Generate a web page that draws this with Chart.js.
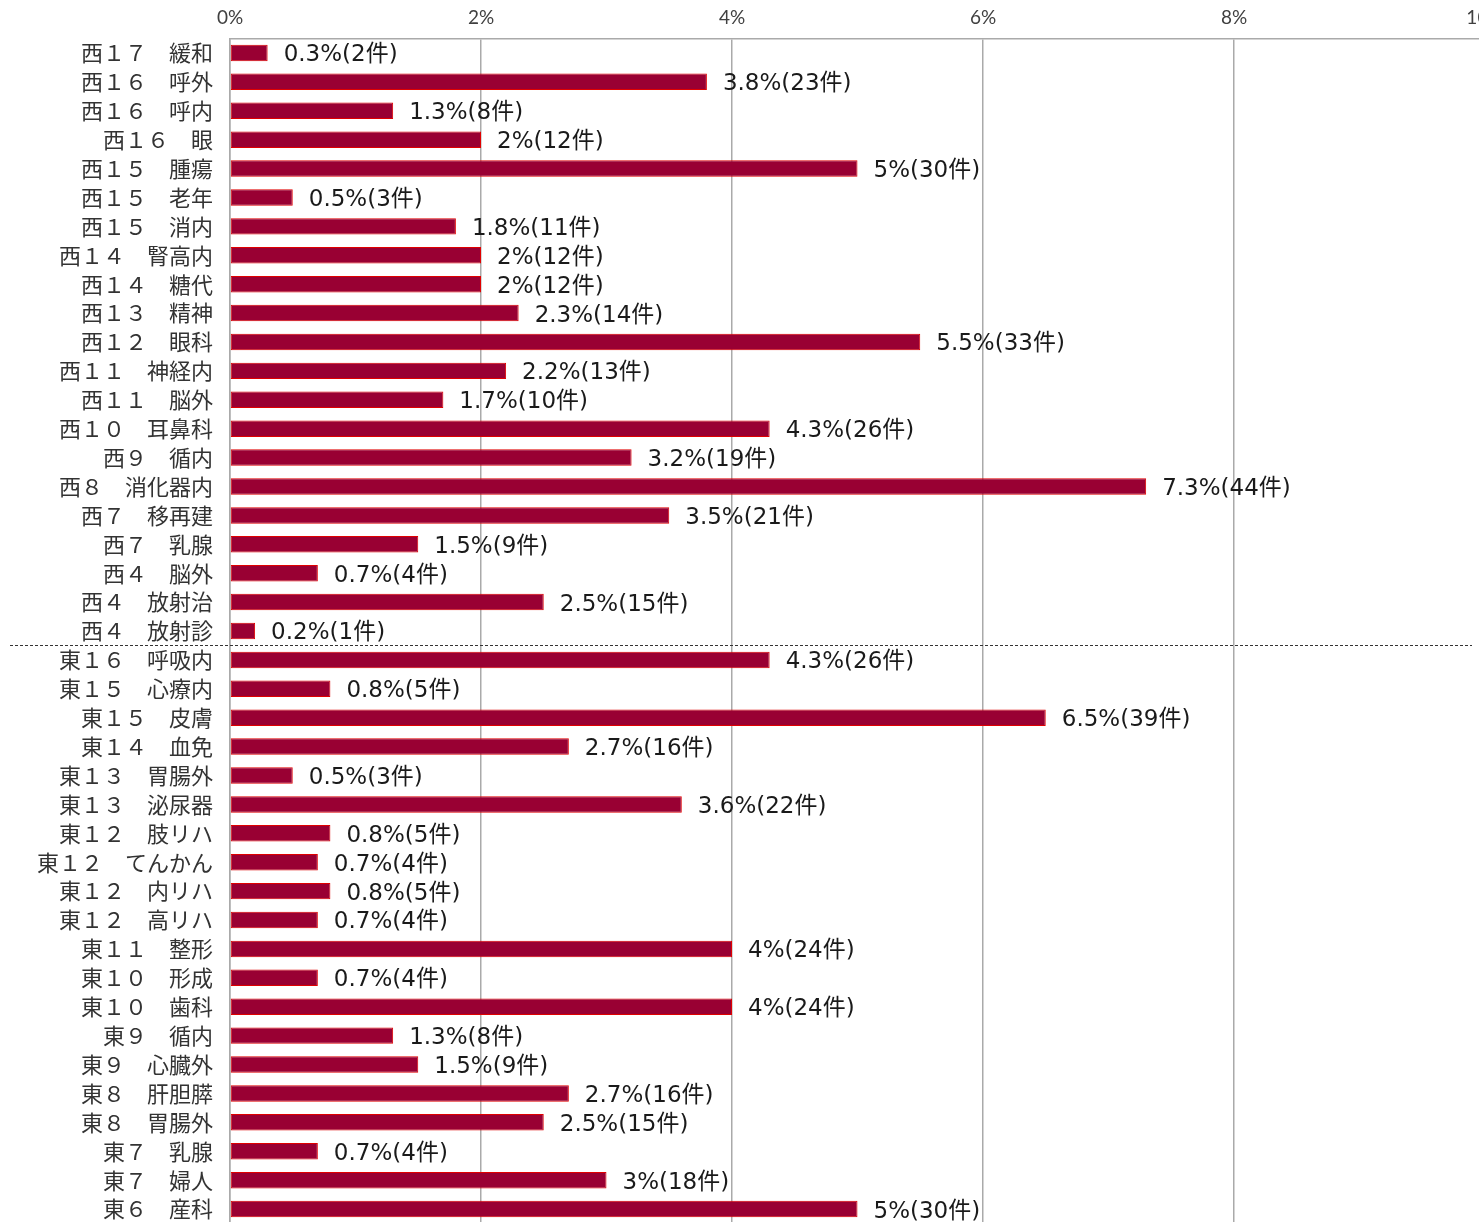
<!DOCTYPE html>
<html>
<head>
<meta charset="utf-8">
<script src="https://cdn.jsdelivr.net/npm/chart.js@4"></script>
<style>
  html, body { margin: 0; padding: 0; background: #fff; overflow: hidden; }
  #wrap { position: absolute; left: 0; top: 0; width: 1530px; height: 1254px; }
</style>
</head>
<body>
<div id="wrap"><canvas id="c" width="1530" height="1254" style="width:1530px;height:1254px"></canvas></div>
<script>
const categories = [
  "西１７　緩和","西１６　呼外","西１６　呼内","西１６　眼","西１５　腫瘍","西１５　老年","西１５　消内",
  "西１４　腎高内","西１４　糖代","西１３　精神","西１２　眼科","西１１　神経内","西１１　脳外","西１０　耳鼻科",
  "西９　循内","西８　消化器内","西７　移再建","西７　乳腺","西４　脳外","西４　放射治","西４　放射診",
  "東１６　呼吸内","東１５　心療内","東１５　皮膚","東１４　血免","東１３　胃腸外","東１３　泌尿器",
  "東１２　肢リハ","東１２　てんかん","東１２　内リハ","東１２　高リハ","東１１　整形","東１０　形成",
  "東１０　歯科","東９　循内","東９　心臓外","東８　肝胆膵","東８　胃腸外","東７　乳腺","東７　婦人","東６　産科"
];
const percents = [
  0.3, 3.8, 1.3, 2, 5, 0.5, 1.8,
  2, 2, 2.3, 5.5, 2.2, 1.7, 4.3,
  3.2, 7.3, 3.5, 1.5, 0.7, 2.5, 0.2,
  4.3, 0.8, 6.5, 2.7, 0.5, 3.6,
  0.8, 0.7, 0.8, 0.7, 4, 0.7,
  4, 1.3, 1.5, 2.7, 2.5, 0.7, 3, 5
];
const counts = [
  2, 23, 8, 12, 30, 3, 11,
  12, 12, 14, 33, 13, 10, 26,
  19, 44, 21, 9, 4, 15, 1,
  26, 5, 39, 16, 3, 22,
  5, 4, 5, 4, 24, 4,
  24, 8, 9, 16, 15, 4, 18, 30
];
const xTicks = [0, 2, 4, 6, 8, 10];
const dividerAfterIndex = 20; // last 西 row

const labelPlugin = {
  id: 'valueLabels',
  afterDatasetsDraw(chart) {
    const ctx = chart.ctx;
    const xs = chart.scales.x, ys = chart.scales.y;
    ctx.save();
    ctx.font = '23px "DejaVu Sans", "Noto Sans CJK JP", sans-serif';
    ctx.fillStyle = '#1a1a1a';
    ctx.textAlign = 'left';
    ctx.textBaseline = 'middle';
    percents.forEach((p, i) => {
      const x = xs.getPixelForValue(p) + 16;
      const y = ys.getPixelForValue(i) + 2.5;
      ctx.fillText(p + '%(' + counts[i] + '件)', x, y);
    });
    // divider between 西 and 東 groups
    const yd = (ys.getPixelForValue(dividerAfterIndex) + ys.getPixelForValue(dividerAfterIndex + 1)) / 2;
    ctx.strokeStyle = '#333';
    ctx.lineWidth = 1;
    ctx.setLineDash([3, 2]);
    ctx.beginPath();
    ctx.moveTo(10, Math.round(yd) + 0.5);
    ctx.lineTo(1472, Math.round(yd) + 0.5);
    ctx.stroke();
    ctx.restore();
  }
};

new Chart(document.getElementById('c'), {
  type: 'bar',
  data: {
    labels: categories,
    datasets: [{
      data: percents,
      backgroundColor: '#990033',
      borderColor: '#E00000',
      borderWidth: 1,
      borderSkipped: false,
      categoryPercentage: 1,
      barPercentage: 0.57
    }]
  },
  options: {
    indexAxis: 'y',
    responsive: false,
    animation: false,
    devicePixelRatio: 1,
    layout: { padding: { left: 0, top: 0, right: 45, bottom: 30.5 } },
    plugins: { legend: { display: false }, tooltip: { enabled: false } },
    scales: {
      x: {
        position: 'top',
        min: 0, max: 10,
        afterBuildTicks(scale) { scale.ticks = xTicks.map(v => ({ value: v })); },
        afterFit(scale) { scale.height = 38.5; },
        grid: { color: '#aaaaaa', lineWidth: 1.5, drawTicks: false },
        border: { color: '#aaaaaa', width: 1.5 },
        ticks: {
          padding: 9,
          color: '#404040',
          font: { family: 'Lato, "Liberation Sans", sans-serif', size: 19 },
          callback: v => v + '%'
        }
      },
      y: {
        afterFit(scale) { scale.width = 230; },
        grid: { display: false, drawTicks: false },
        border: { color: '#aaaaaa', width: 1.5 },
        ticks: {
          padding: 17,
          autoSkip: false,
          color: '#333333',
          font: { family: '"Noto Sans CJK JP", sans-serif', size: 22 }
        }
      }
    }
  },
  plugins: [labelPlugin]
});
</script>
</body>
</html>
